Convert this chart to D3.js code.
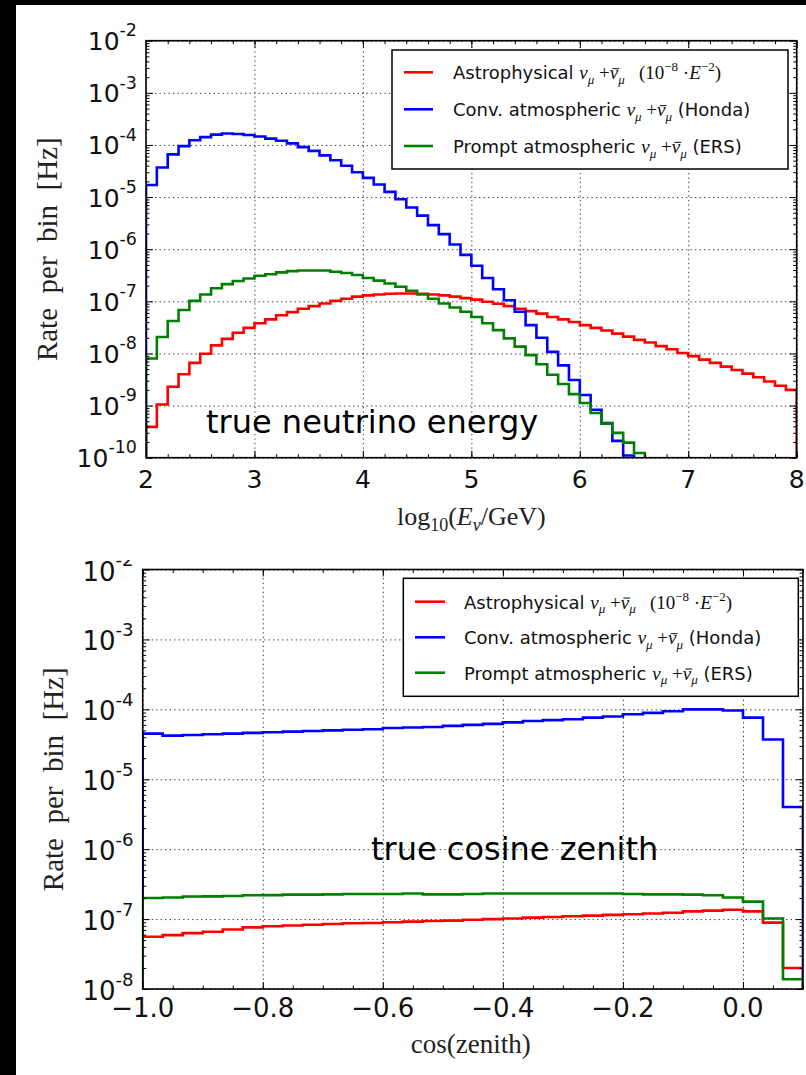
<!DOCTYPE html>
<html>
<head>
<meta charset="utf-8">
<script src="https://cdn.jsdelivr.net/npm/d3@7"></script>
<style>
  body { margin: 0; background: #fff; }
  svg { display: block; }
  text { white-space: pre; }
</style>
</head>
<body>
<svg id="fig" width="806" height="1075"></svg>
<script>
// ---------------- data ----------------
// log10(E/GeV) histogram: 60 bins of width 0.1 from 2 to 8 (rate per bin, Hz)
const energyRange = [2, 8];
const energyBinCount = 60;
const astroEnergy = [
  3.9e-10, 1.05e-9, 2.3e-9, 4.0e-9, 6.6e-9, 9.9e-9, 1.43e-8, 1.9e-8, 2.5e-8, 3.1e-8,
  3.8e-8, 4.5e-8, 5.4e-8, 6.2e-8, 7.2e-8, 8.1e-8, 9.1e-8, 1.02e-7, 1.12e-7, 1.23e-7,
  1.30e-7, 1.35e-7, 1.40e-7, 1.41e-7, 1.41e-7, 1.40e-7, 1.35e-7, 1.30e-7, 1.23e-7, 1.15e-7,
  1.08e-7, 9.8e-8, 9.0e-8, 8.1e-8, 7.2e-8, 6.5e-8, 5.8e-8, 5.0e-8, 4.5e-8, 4.0e-8,
  3.5e-8, 3.1e-8, 2.75e-8, 2.4e-8, 2.1e-8, 1.82e-8, 1.62e-8, 1.38e-8, 1.2e-8, 1.02e-8,
  8.9e-9, 7.6e-9, 6.6e-9, 5.6e-9, 4.8e-9, 4.1e-9, 3.5e-9, 2.9e-9, 2.4e-9, 2.0e-9
];
// null = below the lower edge of the plotted range
const convEnergy = [
  1.7e-5, 3.7e-5, 6.6e-5, 9.5e-5, 1.23e-4, 1.41e-4, 1.58e-4, 1.66e-4, 1.62e-4, 1.55e-4,
  1.45e-4, 1.32e-4, 1.20e-4, 1.07e-4, 9.1e-5, 7.7e-5, 6.3e-5, 5.1e-5, 4.0e-5, 3.0e-5,
  2.34e-5, 1.74e-5, 1.26e-5, 9.1e-6, 6.3e-6, 4.4e-6, 2.9e-6, 1.95e-6, 1.23e-6, 7.8e-7,
  4.8e-7, 2.8e-7, 1.7e-7, 1.05e-7, 6.3e-8, 3.5e-8, 2.0e-8, 1.07e-8, 5.9e-9, 3.1e-9,
  1.6e-9, 8.3e-10, 4.6e-10, 2.1e-10, 1.1e-10, null, null, null, null, null,
  null, null, null, null, null, null, null, null, null, null
];
const promptEnergy = [
  8.0e-9, 2.07e-8, 4.2e-8, 6.8e-8, 1.02e-7, 1.35e-7, 1.78e-7, 2.14e-7, 2.45e-7, 2.75e-7,
  3.1e-7, 3.3e-7, 3.6e-7, 3.8e-7, 3.9e-7, 3.9e-7, 3.9e-7, 3.7e-7, 3.5e-7, 3.2e-7,
  2.8e-7, 2.5e-7, 2.2e-7, 1.9e-7, 1.6e-7, 1.35e-7, 1.12e-7, 9.1e-8, 7.6e-8, 6.3e-8,
  5.0e-8, 3.8e-8, 2.8e-8, 1.95e-8, 1.35e-8, 9.3e-9, 6.2e-9, 3.9e-9, 2.6e-9, 1.66e-9,
  1.12e-9, 7.2e-10, 4.5e-10, 3.0e-10, 1.95e-10, 1.23e-10, null, null, null, null,
  null, null, null, null, null, null, null, null, null, null
];

// cos(zenith) histogram: 33 bins from -1.0 to 0.1
const zenithRange = [-1.0, 0.1];
const zenithBinCount = 33;
const astroZenith = [
  5.6e-8, 5.9e-8, 6.3e-8, 6.6e-8, 7.1e-8, 7.6e-8, 7.9e-8, 8.1e-8, 8.3e-8, 8.5e-8,
  8.7e-8, 8.8e-8, 9.0e-8, 9.2e-8, 9.4e-8, 9.5e-8, 9.8e-8, 1.0e-7, 1.02e-7, 1.05e-7,
  1.07e-7, 1.10e-7, 1.12e-7, 1.15e-7, 1.17e-7, 1.20e-7, 1.23e-7, 1.29e-7, 1.32e-7, 1.36e-7,
  1.29e-7, 8.9e-8, 2.0e-8
];
const convZenith = [
  4.5e-5, 4.2e-5, 4.3e-5, 4.4e-5, 4.5e-5, 4.6e-5, 4.7e-5, 4.8e-5, 4.9e-5, 5.0e-5,
  5.1e-5, 5.2e-5, 5.4e-5, 5.5e-5, 5.6e-5, 5.8e-5, 6.0e-5, 6.2e-5, 6.5e-5, 6.8e-5,
  7.0e-5, 7.2e-5, 7.6e-5, 7.9e-5, 8.5e-5, 8.9e-5, 9.4e-5, 1.0e-4, 1.0e-4, 9.6e-5,
  7.6e-5, 3.7e-5, 4.0e-6
];
const promptZenith = [
  2.0e-7, 2.04e-7, 2.1e-7, 2.11e-7, 2.14e-7, 2.19e-7, 2.2e-7, 2.24e-7, 2.24e-7, 2.26e-7,
  2.29e-7, 2.29e-7, 2.29e-7, 2.32e-7, 2.26e-7, 2.26e-7, 2.29e-7, 2.32e-7, 2.32e-7, 2.32e-7,
  2.32e-7, 2.32e-7, 2.32e-7, 2.32e-7, 2.29e-7, 2.26e-7, 2.26e-7, 2.24e-7, 2.19e-7, 2.04e-7,
  1.78e-7, 1.02e-7, 1.38e-8
];

// axis ticks
const energyTicks = [2, 3, 4, 5, 6, 7, 8];
const energyTickLabels = ["2", "3", "4", "5", "6", "7", "8"];
const zenithTicks = [-1.0, -0.8, -0.6, -0.4, -0.2, 0.0];
const zenithTickLabels = ["\u22121.0", "\u22120.8", "\u22120.6", "\u22120.4", "\u22120.2", "0.0"];
const energyRateExponents = [-2, -3, -4, -5, -6, -7, -8, -9, -10];
const zenithRateExponents = [-2, -3, -4, -5, -6, -7, -8];

// legend
const seriesNames = ["Astrophysical", "Conv. atmospheric", "Prompt atmospheric"];
const seriesTags = ["astro", "(Honda)", "(ERS)"];
const seriesColors = ["#ff0000", "#0000ff", "#008000"];

// ---------------- drawing ----------------
const SANS = "DejaVu Sans";
const SERIF = "Liberation Serif";
const svg = d3.select("#fig");

svg.append("rect").attr("width", 806).attr("height", 1075).attr("fill", "#fff");
// dark margins of the figure
svg.append("rect").attr("x", 0).attr("y", 0).attr("width", 16).attr("height", 1075).attr("fill", "#000");
svg.append("rect").attr("x", 0).attr("y", 0).attr("width", 806).attr("height", 5).attr("fill", "#000");

const defs = svg.append("defs");

// append a run of tspans (font / size / italic / baseline offset / bar accent)
function richText(sel, runs) {
  let cur = 0;
  const barred = [];
  runs.forEach(r => {
    const ts = sel.append("tspan")
      .text(r.t)
      .attr("font-family", r.f || SANS)
      .attr("font-size", r.s)
      .attr("font-style", r.i ? "italic" : null);
    const off = r.o || 0;
    if (off !== cur) { ts.attr("dy", off - cur); cur = off; }
    if (r.bar) barred.push({ node: ts.node(), size: r.s });
  });
  // accent bars over barred glyphs, placed from the rendered glyph extents
  barred.forEach(b => {
    const p0 = b.node.getStartPositionOfChar(0);
    const p1 = b.node.getEndPositionOfChar(0);
    d3.select(sel.node().parentNode).append("line")
      .attr("x1", p0.x + b.size * 0.14).attr("x2", p1.x + b.size * 0.06)
      .attr("y1", p0.y - b.size * 0.56).attr("y2", p0.y - b.size * 0.56)
      .attr("stroke", "#111").attr("stroke-width", 1);
  });
}

function numuRuns(big, small) {
  return [
    { t: "\u03BD", f: SERIF, s: big, i: true },
    { t: "\u03BC", f: SERIF, s: small, i: true, o: big * 0.25 },
    { t: " +", f: SERIF, s: big },
    { t: "\u03BD", f: SERIF, s: big, i: true, bar: true },
    { t: "\u03BC", f: SERIF, s: small, i: true, o: big * 0.25 }
  ];
}

function drawPanel(cfg, idx) {
  const clipId = "panel-clip-" + idx;
  defs.append("clipPath").attr("id", clipId).append("rect")
    .attr("x", 16).attr("y", cfg.cropTop).attr("width", 790).attr("height", cfg.cropBottom - cfg.cropTop);
  const plotClipId = "plot-clip-" + idx;
  defs.append("clipPath").attr("id", plotClipId).append("rect")
    .attr("x", cfg.left).attr("y", cfg.top).attr("width", cfg.right - cfg.left).attr("height", cfg.bottom - cfg.top);

  const root = svg.append("g").attr("clip-path", `url(#${clipId})`);
  const x = d3.scaleLinear(cfg.xDomain, [cfg.left, cfg.right]);
  const y = d3.scaleLog(cfg.yDomain, [cfg.bottom, cfg.top]);
  const W = cfg.right - cfg.left, H = cfg.bottom - cfg.top;

  const decades = cfg.exponents.map(e => Math.pow(10, e));
  const minor = [];
  cfg.exponents.slice(1).forEach(e => { for (let m = 2; m <= 9; m++) minor.push(m * Math.pow(10, e)); });

  // dotted grid
  const gridStyle = s => {
    s.select(".domain").remove();
    s.selectAll("line").attr("stroke", "#333").attr("stroke-width", 1).attr("stroke-dasharray", "1.3,3.2");
  };
  root.append("g").attr("transform", `translate(0,${cfg.bottom})`)
    .call(d3.axisBottom(x).tickValues(cfg.xTicks).tickSize(-H).tickFormat(""))
    .call(gridStyle);
  root.append("g").attr("transform", `translate(${cfg.left},0)`)
    .call(d3.axisLeft(y).tickValues(decades).tickSize(-W).tickFormat(""))
    .call(gridStyle);

  // step histograms
  const n = cfg.binCount;
  const edge = i => cfg.xDomain[0] + (cfg.xDomain[1] - cfg.xDomain[0]) * i / n;
  const yOf = v => (v == null || v <= 0) ? cfg.bottom + 40 : y(v);
  const lines = root.append("g").attr("clip-path", `url(#${plotClipId})`);
  cfg.series.forEach((vals, k) => {
    const pts = [[x(edge(0)), cfg.bottom + 40]];
    vals.forEach((v, i) => {
      pts.push([x(edge(i)), yOf(v)]);
      pts.push([x(edge(i + 1)), yOf(v)]);
    });
    pts.push([x(edge(n)), cfg.bottom + 40]);
    lines.append("path")
      .attr("d", d3.line()(pts))
      .attr("fill", "none")
      .attr("stroke", seriesColors[k])
      .attr("stroke-width", 2.6)
      .attr("stroke-linejoin", "miter");
  });

  // inward ticks on all four sides
  const tickStyle = s => {
    s.select(".domain").remove();
    s.selectAll("line").attr("stroke", "#000").attr("stroke-width", 1);
  };
  const xMinor = d3.range(Math.round((cfg.xDomain[1] - cfg.xDomain[0]) / cfg.xMinorStep) + 1)
    .map(i => cfg.xDomain[0] + i * cfg.xMinorStep);
  [[d3.axisTop, cfg.bottom], [d3.axisBottom, cfg.top]].forEach(([ax, pos]) => {
    root.append("g").attr("transform", `translate(0,${pos})`)
      .call(ax(x).tickValues(xMinor).tickSize(3.5).tickFormat("")).call(tickStyle);
    root.append("g").attr("transform", `translate(0,${pos})`)
      .call(ax(x).tickValues(cfg.xTicks).tickSize(7).tickFormat("")).call(tickStyle);
  });
  [[d3.axisRight, cfg.left], [d3.axisLeft, cfg.right]].forEach(([ax, pos]) => {
    root.append("g").attr("transform", `translate(${pos},0)`)
      .call(ax(y).tickValues(minor).tickSize(3.5).tickFormat("")).call(tickStyle);
    root.append("g").attr("transform", `translate(${pos},0)`)
      .call(ax(y).tickValues(decades).tickSize(7).tickFormat("")).call(tickStyle);
  });

  // frame
  root.append("rect")
    .attr("x", cfg.left).attr("y", cfg.top).attr("width", W).attr("height", H)
    .attr("fill", "none").attr("stroke", "#000").attr("stroke-width", 1.6);

  // tick labels
  cfg.xTicks.forEach((t, i) => {
    root.append("text")
      .attr("x", x(t)).attr("y", cfg.bottom + cfg.xLabelDy)
      .attr("text-anchor", "middle")
      .attr("font-family", SANS).attr("font-size", cfg.tickFont)
      .attr("fill", "#111")
      .text(cfg.xTickLabels[i]);
  });
  cfg.exponents.forEach(e => {
    const t = root.append("text")
      .attr("x", cfg.left - 9).attr("y", y(Math.pow(10, e)) + cfg.yLabelDy)
      .attr("text-anchor", "end").attr("fill", "#111");
    richText(t, [
      { t: "10", s: cfg.tickFont },
      { t: "-" + Math.abs(e), s: cfg.tickFont * 0.7, o: -cfg.tickFont * 0.55 }
    ]);
  });

  // axis titles
  root.append("text")
    .attr("transform", `translate(${cfg.yTitleX},${(cfg.top + cfg.bottom) / 2}) rotate(-90)`)
    .attr("text-anchor", "middle").attr("font-family", SERIF).attr("font-size", cfg.titleFont)
    .attr("fill", "#222")
    .text("Rate  per  bin  [Hz]");

  const xt = root.append("text")
    .attr("x", (cfg.left + cfg.right) / 2 + cfg.xTitleShift).attr("y", cfg.bottom + cfg.xTitleDy)
    .attr("text-anchor", "middle").attr("fill", "#222");
  richText(xt, cfg.xTitle);

  // legend
  const lg = root.append("g");
  lg.append("rect")
    .attr("x", cfg.legend.x).attr("y", cfg.legend.y)
    .attr("width", cfg.legend.w).attr("height", cfg.legend.h)
    .attr("fill", "#fff").attr("stroke", "#000").attr("stroke-width", 1.5);
  seriesNames.forEach((name, k) => {
    const ry = cfg.legend.rows[k];
    lg.append("line")
      .attr("x1", cfg.legend.lx0).attr("x2", cfg.legend.lx1)
      .attr("y1", ry).attr("y2", ry)
      .attr("stroke", seriesColors[k]).attr("stroke-width", 2.6);
    const t = lg.append("text").attr("x", cfg.legend.tx).attr("y", ry + 7).attr("fill", "#111");
    const big = 19, small = 13;
    let runs = [{ t: name + " ", s: 18 }].concat(numuRuns(big, small));
    if (seriesTags[k] === "astro") {
      runs = runs.concat([
        { t: "   (10", f: SERIF, s: big },
        { t: "\u22128", f: SERIF, s: small, o: -8 },
        { t: " \u00B7", f: SERIF, s: big },
        { t: "E", f: SERIF, s: big, i: true },
        { t: "\u22122", f: SERIF, s: small, o: -8 },
        { t: ")", f: SERIF, s: big }
      ]);
    } else {
      runs.push({ t: " " + seriesTags[k], s: 18 });
    }
    richText(t, runs);
  });

  // annotation
  root.append("text")
    .attr("x", cfg.note.x).attr("y", cfg.note.y)
    .attr("font-family", SANS).attr("font-size", 32).attr("fill", "#000")
    .text(cfg.note.text);
}

drawPanel({
  cropTop: 5, cropBottom: 558,
  left: 146, right: 796.7, top: 40.7, bottom: 457.7,
  xDomain: energyRange, yDomain: [1e-10, 1e-2],
  binCount: energyBinCount,
  series: [astroEnergy, convEnergy, promptEnergy],
  xTicks: energyTicks, xTickLabels: energyTickLabels, xMinorStep: 0.2,
  exponents: energyRateExponents,
  tickFont: 25, xLabelDy: 30, yLabelDy: 9.5,
  titleFont: 29, yTitleX: 57,
  xTitleDy: 67, xTitleShift: 0,
  xTitle: [
    { t: "log", f: SERIF, s: 26 },
    { t: "10", f: SERIF, s: 18, o: 6 },
    { t: "(", f: SERIF, s: 26 },
    { t: "E", f: SERIF, s: 26, i: true },
    { t: "\u03BD", f: SERIF, s: 18, i: true, o: 6 },
    { t: "/GeV)", f: SERIF, s: 26 }
  ],
  legend: { x: 392, y: 50, w: 396, h: 119, lx0: 404, lx1: 433, tx: 453, rows: [72.3, 109.3, 146] },
  note: { text: "true neutrino energy", x: 206, y: 433 }
}, 0);

drawPanel({
  cropTop: 560, cropBottom: 1075,
  left: 142.7, right: 803, top: 569.5, bottom: 989,
  xDomain: zenithRange, yDomain: [1e-8, 1e-2],
  binCount: zenithBinCount,
  series: [astroZenith, convZenith, promptZenith],
  xTicks: zenithTicks, xTickLabels: zenithTickLabels, xMinorStep: 0.05,
  exponents: zenithRateExponents,
  tickFont: 26, xLabelDy: 28, yLabelDy: 11,
  titleFont: 29, yTitleX: 63,
  xTitleDy: 64, xTitleShift: -2,
  xTitle: [{ t: "cos(zenith)", f: SERIF, s: 27 }],
  legend: { x: 403.3, y: 578.3, w: 395, h: 118, lx0: 415, lx1: 445, tx: 464, rows: [601.7, 637.3, 672.7] },
  note: { text: "true cosine zenith", x: 371, y: 860 }
}, 1);
</script>
</body>
</html>
